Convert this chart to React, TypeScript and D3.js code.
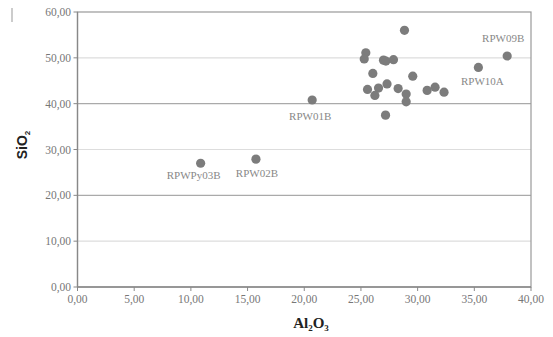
import React from "react";
import * as d3 from "d3";

const sampleX = [28.84, 37.9, 35.36, 25.43, 25.29, 26.99, 27.2, 27.87, 26.05, 29.57, 25.58, 26.55, 26.23, 27.3, 28.28, 28.99, 28.99, 30.84, 31.54, 32.33, 20.7, 27.17, 10.86, 15.74];
const sampleY = [56.0, 50.4, 47.9, 51.1, 49.75, 49.5, 49.3, 49.6, 46.6, 46.0, 43.1, 43.4, 41.8, 44.3, 43.3, 42.1, 40.4, 42.9, 43.6, 42.5, 40.8, 37.5, 27.0, 27.9];

const labelNames = ["RPW09B", "RPW10A", "RPW01B", "RPWPy03B", "RPW02B"];
const labelIndex = [1, 2, 20, 22, 23];
const labelDx = [-4, 4, -2, -7, 1];
const labelDy = [-18, 14, 16, 12, 14];

const xTicks = [0, 5, 10, 15, 20, 25, 30, 35, 40];
const yTicks = [0, 10, 20, 30, 40, 50, 60];

const fmt = (v: number) => v.toFixed(2).replace(".", ",");

export default function App() {
  const W = 553, H = 337;
  const x = d3.scaleLinear().domain([0, 40]).range([77.5, 531]);
  const y = d3.scaleLinear().domain([0, 60]).range([287, 12]);
  const serif = "Liberation Serif, Times New Roman, DejaVu Serif, serif";
  const sans = "Liberation Sans, Arial, DejaVu Sans, sans-serif";
  const gray = "#7c7c7c";
  return (
    <svg width={W} height={H} style={{ position: "absolute", left: 0, top: 0, background: "#fff" }}>
      <line x1={12} x2={12} y1={8} y2={22} stroke="#999" strokeWidth={1} />
      {yTicks.filter(t => t > 0 && t < 60).map(t => (
        <line key={"g" + t} x1={x(0)} x2={x(40)} y1={y(t)} y2={y(t)}
          stroke={t % 20 === 0 ? "#aaa" : "#ddd"} strokeWidth={1.2} />
      ))}
      <rect x={x(0)} y={y(60)} width={x(40) - x(0)} height={y(0) - y(60)} fill="none" stroke="#999" strokeWidth={1.2} />
      <line x1={x(0)} x2={x(0)} y1={y(0)} y2={y(60)} stroke="#888" strokeWidth={1.3} />
      <line x1={x(0)} x2={x(40)} y1={y(0)} y2={y(0)} stroke="#888" strokeWidth={1.3} />
      {yTicks.map(t => (
        <g key={"y" + t}>
          <line x1={x(0) - 4} x2={x(0)} y1={y(t)} y2={y(t)} stroke="#888" />
          <text x={71} y={y(t) + 4} textAnchor="end" fontSize={11.5} style={{ fontFamily: serif }} fill="#777">{fmt(t)}</text>
        </g>
      ))}
      {xTicks.map(t => (
        <g key={"x" + t}>
          <line x1={x(t)} x2={x(t)} y1={y(0)} y2={y(0) + 4} stroke="#888" />
          <text x={x(t)} y={y(0) + 16} textAnchor="middle" fontSize={11.5} style={{ fontFamily: serif }} fill="#777">{fmt(t)}</text>
        </g>
      ))}
      {sampleX.map((v, i) => (
        <circle key={"p" + i} cx={x(v)} cy={y(sampleY[i])} r={4.6} fill={gray} />
      ))}
      {labelNames.map((n, k) => {
        const i = labelIndex[k];
        return (
          <text key={n} x={x(sampleX[i]) + labelDx[k]} y={y(sampleY[i]) + labelDy[k] + 4}
            textAnchor="middle" fontSize={11} style={{ fontFamily: serif }} fill="#888">{n}</text>
        );
      })}
      <text transform={`translate(27,145) rotate(-90)`} textAnchor="middle" fontSize={14} fontWeight="bold" style={{ fontFamily: sans }} fill="#222">
        SiO<tspan fontSize={8} dy={3}>2</tspan>
      </text>
      <text x={311} y={328} textAnchor="middle" fontSize={15} fontWeight="bold" style={{ fontFamily: serif }} fill="#222">
        Al<tspan fontSize={9} dy={3}>2</tspan><tspan dy={-3}>O</tspan><tspan fontSize={9} dy={3}>3</tspan>
      </text>
    </svg>
  );
}
